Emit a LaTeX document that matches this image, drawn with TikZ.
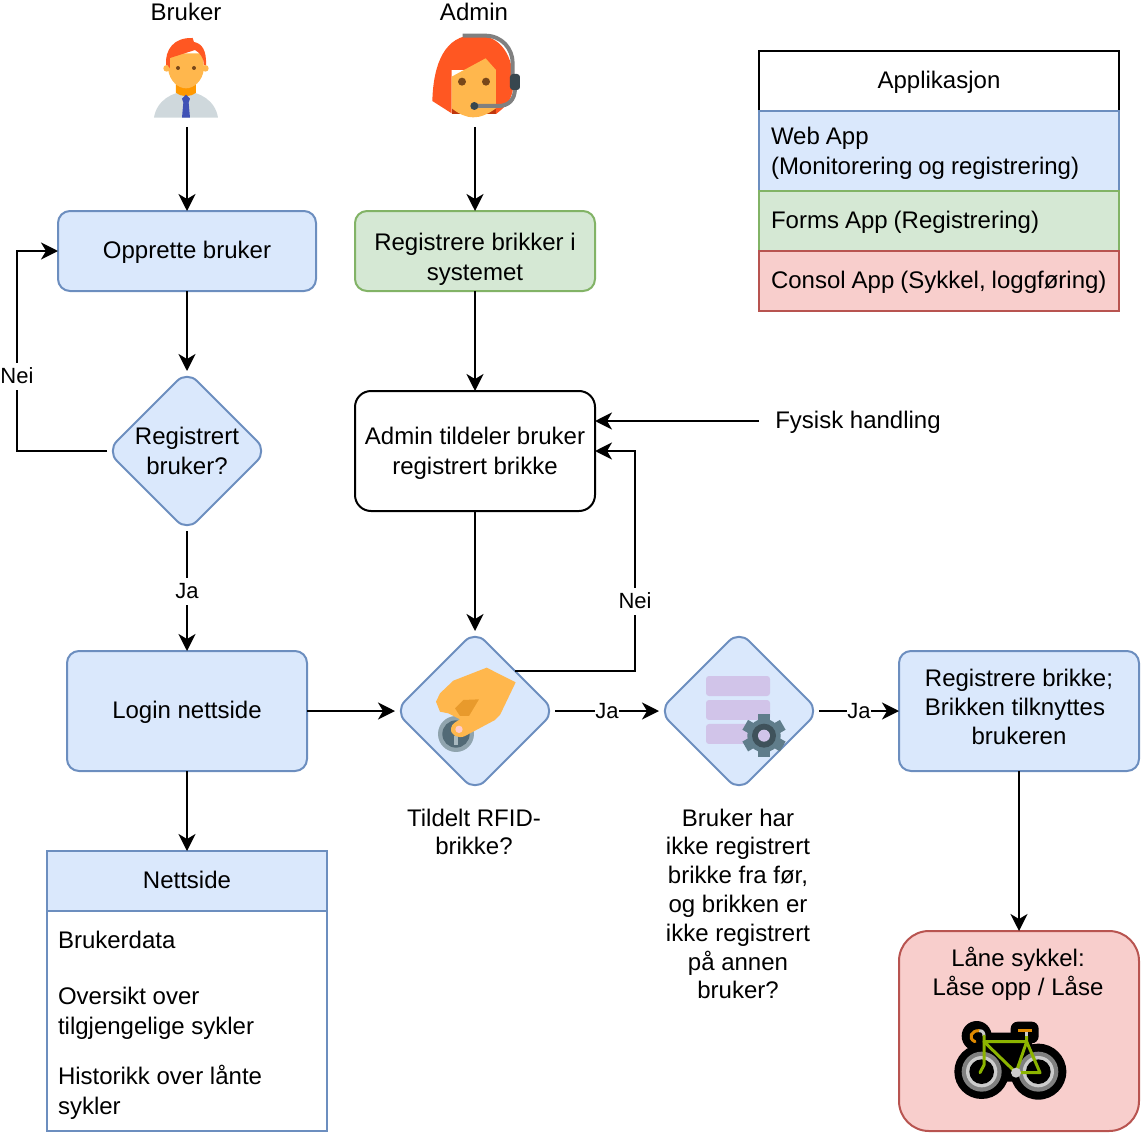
\documentclass[tikz,border=0pt]{standalone}
\usepackage{fontspec}
\setmainfont{Liberation Sans}
\usetikzlibrary{arrows.meta}
\usetikzlibrary{shapes.geometric}
\definecolor{bluefill}{HTML}{DAE8FC}
\definecolor{bluedraw}{HTML}{6C8EBF}
\definecolor{greenfill}{HTML}{D5E8D4}
\definecolor{greendraw}{HTML}{82B366}
\definecolor{redfill}{HTML}{F8CECC}
\definecolor{reddraw}{HTML}{B85450}
\definecolor{hairc}{HTML}{FF5722}
\definecolor{skinc}{HTML}{FFB74D}
\definecolor{shadec}{HTML}{E89A2C}
\definecolor{neckc}{HTML}{FF9800}
\definecolor{shirtc}{HTML}{CFD8DC}
\definecolor{tiec}{HTML}{3F51B5}
\definecolor{eyec}{HTML}{784719}
\definecolor{darkc}{HTML}{37474F}
\definecolor{hairdark}{HTML}{BF360C}
\definecolor{purplec}{HTML}{D1C4E9}
\definecolor{gearc}{HTML}{607D8B}
\definecolor{framec}{HTML}{8CB400}
\definecolor{barc}{HTML}{E08A00}
\tikzset{
	every node/.style={font=\fontsize{24}{30}\selectfont,inner sep=0pt,outer sep=0pt},
	tight/.style={font=\fontsize{24}{28.8}\selectfont,align=center},
	oneline/.style={text height=20pt,text depth=5pt},
	bluebox/.style={draw=bluedraw,fill=bluefill,line width=2pt,rounded corners=12pt,align=center},
	choice/.style={diamond,aspect=1,draw=bluedraw,fill=bluefill,line width=2pt,rounded corners=14pt,minimum size=160pt,align=center},
	row/.style={draw=#1draw,fill=#1fill,line width=2pt,minimum height=60pt,text width=336pt,inner xsep=12pt,align=left,execute at begin node={\spaceskip=6pt}},
	edgelbl/.style={font=\fontsize{22}{26}\selectfont,fill=white,text height=21pt,text depth=6pt},
	flow/.style={->,line width=2pt,black},
	zoomed/.style={x=0.3333pt,y=-0.3333pt},
	>={Stealth[length=17pt,width=17pt,inset=5pt]}
}
\begin{document}
\begin{tikzpicture}[x=1pt,y=-1pt]
	\useasboundingbox (0,0) rectangle (1142,1134);
	% actors
	\node (bruker) at (186,12) {Bruker};
	\node (admin) at (474,12) {Admin};
	\coordinate (brukerend) at (187,127);
	\coordinate (adminend) at (475,127);
	% left column
	\node[bluebox,oneline,minimum width=258pt,minimum height=80pt] (opprette) at (187,251) {Opprette bruker};
	\node[choice] (regbruker) at (187,451) {Registrert\\bruker?};
	\node[bluebox,oneline,minimum width=240pt,minimum height=120pt] (login) at (187,711) {Login nettside};
	% middle column
	\node[bluebox,draw=greendraw,fill=greenfill,minimum width=240pt,minimum height=80pt] (regbrikker) at (475,251) {\rule{0pt}{33pt}Registrere brikker i\\systemet};
	\node[draw=black,fill=white,line width=2pt,rounded corners=16pt,minimum width=240pt,minimum height=120pt,align=center] (tildeler) at (475,451) {\rule{0pt}{21pt}Admin tildeler bruker\\registrert brikke};
	\node (fysisk) at (858,421) [oneline,minimum width=198pt] {Fysisk handling};
	\node[choice] (rfid) at (475,711) {};
	\node[choice] (ikkereg) at (739,711) {};
	\node[tight] (rfidtekst) at (474,832) {Tildelt RFID-\\brikke?};
	\node[tight] (ikkeregtekst) at (738,904) {Bruker har\\ikke registrert\\brikke fra før,\\og brikken er\\ikke registrert\\på annen\\bruker?};
	% right column
	\node[bluebox,tight,minimum width=240pt,minimum height=120pt] (regbrikke) at (1019,711) {Registrere brikke;\\\mbox{Brikken tilknyttes\hspace{8pt}}\\brukeren\rule[-8pt]{0pt}{8pt}};
	\node[draw=reddraw,fill=redfill,line width=2pt,rounded corners=30pt,minimum width=240pt,minimum height=200pt] (laane) at (1019,1031) {};
	\node[tight] (laanetekst) at (1018,974) {Låne sykkel:\\Låse opp / Låse};
	% table of applications
	\node[draw=black,fill=white,line width=2pt,oneline,minimum width=360pt,minimum height=60pt] (applikasjon) at (939,81) {Applikasjon};
	\node[row=blue,minimum height=80pt] (webapp) at (939,151) {\rule{0pt}{21pt}Web App\\(Monitorering og registrering)};
	\node[row=green,oneline] (formsapp) at (939,221) {Forms App (Registrering)};
	\node[row=red,oneline] (consolapp) at (939,281) {\mbox{Consol App (Sykkel, loggføring)}};
	% web page table
	\node[draw=bluedraw,fill=bluefill,line width=2pt,oneline,minimum width=280pt,minimum height=60pt] (nettside) at (187,881) {Nettside};
	\node[draw=bluedraw,fill=white,line width=2pt,minimum width=280pt,minimum height=220pt] (nettinnhold) at (187,1021) {};
	\node[anchor=west,align=left] (brukerdata) at (58,940) {Brukerdata};
	\node[anchor=west,align=left] (oversikt) at (58,1013) {Oversikt over\\tilgjengelige sykler};
	\node[anchor=west,align=left] (historikk) at (58,1092) {Historikk over lånte\\sykler};
	% connectors
	\draw[flow] (brukerend) -- (opprette.north);
	\draw[flow] (adminend) -- (regbrikker.north);
	\draw[flow] (opprette.south) -- (regbruker.north);
	\draw[flow] (regbruker.west) -- ++(-90,0) |- node[edgelbl,pos=0.1875] (neibruker) {Nei} (opprette.west);
	\draw[flow] (regbruker.south) -- node[edgelbl] (jabruker) {Ja} (login.north);
	\draw[flow] (regbrikker.south) -- (tildeler.north);
	\draw[flow] (fysisk.west) -- (fysisk.west -| tildeler.east);
	\draw[flow] (tildeler.south) -- (rfid.north);
	\draw[flow] (rfid.north east) -- ++(120,0) |- node[edgelbl,pos=0.159] (neirfid) {Nei} (tildeler.east);
	\draw[flow] (login.east) -- (rfid.west);
	\draw[flow] (rfid.east) -- node[edgelbl] (jarfid) {Ja} (ikkereg.west);
	\draw[flow] (ikkereg.east) -- node[edgelbl] (jaikke) {Ja} (regbrikke.west);
	\draw[flow] (login.south) -- (nettside.north);
	\draw[flow] (regbrikke.south) -- (laane.north);
	% user icon
	\begin{scope}[shift={(130,0)},zoomed]
		\fill[shirtc] (72,353) .. controls (80,300) and (130,275) .. (168,275) .. controls (206,275) and (256,300) .. (264,353) -- cycle;
		\fill[neckc] (138,240) -- (198,240) -- (198,278) .. controls (180,292) and (156,292) .. (138,278) -- cycle;
		\fill[tiec] (156,296) -- (168,284) -- (180,296) -- (176,308) -- (180,353) -- (156,353) -- (160,308) -- cycle;
		\fill[skinc] (110,205) circle[radius=10];
		\fill[skinc] (226,205) circle[radius=10];
		\fill[skinc] (118,160) -- (218,160) -- (222,205) .. controls (218,245) and (190,265) .. (168,265) .. controls (146,265) and (118,245) .. (114,205) -- cycle;
		\fill[hairc] (108,195) .. controls (105,150) and (130,112) .. (188,114) -- (192,126) .. controls (215,130) and (230,150) .. (228,195) -- (222,195) .. controls (222,175) and (210,158) .. (195,150) -- (120,174) -- (120,205) -- (112,195) -- cycle;
		\fill[eyec] (144,204) circle[radius=6];
		\fill[eyec] (192,204) circle[radius=6];
	\end{scope}
	% admin icon
	\begin{scope}[shift={(415,20)},zoomed]
		\fill[hairdark] (110,260) -- (243,260) -- (243,282) -- (110,282) -- cycle;
		\fill[hairc] (52,243) .. controls (55,130) and (90,45) .. (180,45) .. controls (260,45) and (295,110) .. (295,190) .. controls (295,230) and (280,255) .. (243,282) -- (243,150) -- (110,150) -- (110,280) -- cycle;
		\fill[skinc] (110,170) -- (212,115) -- (243,150) -- (243,265) .. controls (215,285) and (195,292) .. (175,292) .. controls (150,292) and (130,280) .. (110,265) -- cycle;
		\fill[eyec] (141,185) circle[radius=12];
		\fill[eyec] (213,185) circle[radius=12];
		\draw[gray,line width=4pt] (143,47) -- (210,47) .. controls (260,47) and (293,85) .. (293,130) -- (293,170);
		\draw[gray,line width=4pt] (300,205) .. controls (300,240) and (280,258) .. (250,258) -- (178,258);
		\fill[darkc,rounded corners=3pt] (285,162) rectangle (315,210);
		\fill[darkc] (178,258) circle[radius=12];
	\end{scope}
	% hand and coin
	\begin{scope}[shift={(395,630)},zoomed]
		\fill[gearc!70!white] (183,312) circle[radius=54];
		\fill[gearc!85!black] (183,312) circle[radius=41];
		\fill[gearc!55!white] (178,318) rectangle (190,345);
		\fill[skinc] (175,152) -- (275,113) -- (362,157) -- (315,255) -- (300,270) -- (210,318) .. controls (190,328) and (165,315) .. (168,295) .. controls (170,280) and (185,275) .. (195,268) -- (160,250) -- (135,245) -- (123,215) -- (135,190) -- cycle;
		\fill[shadec] (205,210) -- (252,208) -- (222,258) -- (195,258) -- (180,235) -- cycle;
		\fill[red!20!white] (192,298) circle[radius=11];
	\end{scope}
	% bars and gear
	\begin{scope}[shift={(660,630)},zoomed]
		\fill[purplec,rounded corners=3pt] (138,138) rectangle (330,198);
		\fill[purplec,rounded corners=3pt] (138,210) rectangle (330,270);
		\fill[purplec,rounded corners=3pt] (138,282) rectangle (330,342);
		\foreach \ang in {0,60,120}
			\fill[gearc,rotate around={\ang:(312,317)}] (295,252) rectangle (329,382);
		\fill[gearc] (312,317) circle[radius=50];
		\fill[darkc!80!gearc] (312,317) circle[radius=36];
		\fill[purplec] (312,317) circle[radius=18];
	\end{scope}
	% bicycle
	\begin{scope}[shift={(940,1010)},zoomed]
		\fill[black] (125,185) circle[radius=82];
		\fill[black] (295,185) circle[radius=84];
		\fill[black] (110,78) circle[radius=45];
		\fill[black,rounded corners=7pt] (212,35) rectangle (296,100);
		\fill[black] (110,68) -- (260,68) -- (290,130) -- (240,215) -- (200,215) -- (130,130) -- cycle;
		\fill[gray] (125,185) circle[radius=60];
		\fill[black!20] (125,185) circle[radius=47];
		\fill[black] (125,185) circle[radius=37];
		\fill[gray] (295,185) circle[radius=60];
		\fill[black!20] (295,185) circle[radius=47];
		\fill[black] (295,185) circle[radius=37];
		\draw[barc,line width=3pt,line cap=round] (118,62) .. controls (95,60) and (82,85) .. (105,95);
		\draw[barc,line width=3pt] (235,62) -- (275,62);
		\draw[black!20,line width=3pt] (118,62) .. controls (128,62) and (132,68) .. (132,78);
		\draw[black!20,line width=3pt] (260,65) -- (260,78);
		\draw[framec,line width=3pt,line join=round,line cap=round] (132,78) -- (132,165) -- (120,188);
		\draw[framec,line width=3pt,line join=round] (132,95) -- (260,95) -- (300,188) -- (228,188) -- cycle;
		\draw[framec,line width=3pt] (260,78) -- (260,95) -- (228,188);
		\fill[black!20] (228,188) circle[radius=15];
	\end{scope}
\end{tikzpicture}
\end{document}
